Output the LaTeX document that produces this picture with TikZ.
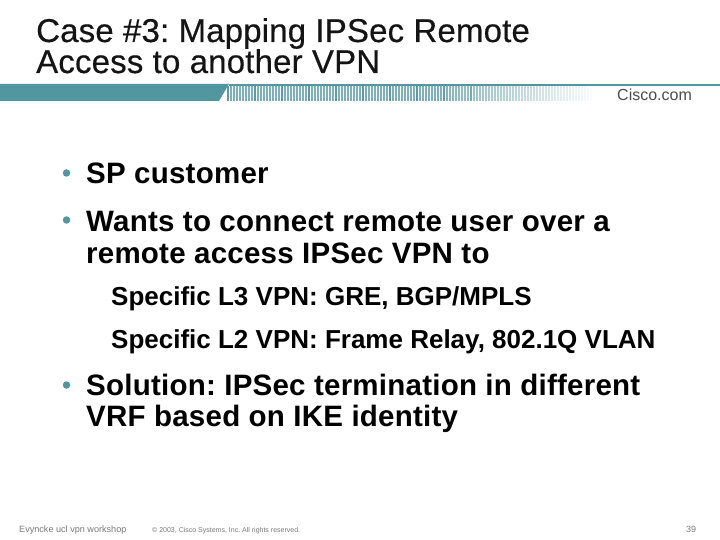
\documentclass[tikz,border=0pt]{standalone}
\usepackage{fontspec}
\setmainfont{Liberation Sans}
\newfontfamily\titlefont[LetterSpace=0.5,FakeBold=0.4]{Liberation Sans}
\newfontfamily\itemfont[LetterSpace=0.8]{Liberation Sans}
\frenchspacing
\usetikzlibrary{positioning}
\definecolor{ciscoteal}{RGB}{82,150,160}
\definecolor{titlegray}{RGB}{20,20,20}
\definecolor{footgray}{RGB}{120,120,120}
\tikzstyle{titleline} = [anchor=base west, inner sep=0pt, text=titlegray, font=\titlefont\fontsize{33}{33}\selectfont]
\tikzstyle{bigitem} = [anchor=base west, inner sep=0pt, text=black, font=\itemfont\bfseries\fontsize{29.5}{29.5}\selectfont]
\tikzstyle{subitem} = [anchor=base west, inner sep=0pt, text=black, font=\bfseries\fontsize{26}{26}\selectfont]
\tikzstyle{foot} = [anchor=base west, inner sep=0pt, text=footgray]
\tikzstyle{dotitem} = [circle, inner sep=0pt, minimum size=7.5pt, fill=ciscoteal]
\begin{document}
\begin{tikzpicture}[x=1pt,y=-1pt]
    \useasboundingbox (0,0) rectangle (720,540);
    % top band
    \fill [ciscoteal] (0,84) -- (229,84) -- (219,101) -- (0,101) -- cycle;
    \fill [ciscoteal] (229,84) rectangle (720,86.5);
    \foreach \i in {0,...,121} {
        \pgfmathsetmacro{\stripex}{227+3*\i}
        \pgfmathsetmacro{\fadeval}{(\i<70 ? 75 : 75-(\i-70)*1.4)+(\i<85 && mod(\i,9)==0 ? 20 : 0)}
        \fill [ciscoteal!\fadeval!white] (\stripex,86) rectangle (\stripex+1.6,101);
    }
    \node [anchor=base west, inner sep=0pt, text=black!70, font=\fontsize{16}{16}\selectfont] (logo) at (617,101) {Cisco.com};
    % title
    \node [titleline] (title1) at (36,42) {Case \#3: Mapping IPSec Remote};
    \node [titleline] (title2) at (36,73) {Access to another VPN};
    % bullets
    \node [dotitem] (dot1) at (66.5,173) {};
    \node [bigitem] (item1) at (86,184) {SP customer};
    \node [dotitem] (dot2) at (66.5,220) {};
    \node [bigitem] (item2) at (86,231) {Wants to connect remote user over a};
    \node [bigitem] (item2b) at (86,263) {remote access IPSec VPN to};
    \node [subitem] (sub1) at (111,305) {Specific L3 VPN: GRE, BGP/MPLS};
    \node [subitem] (sub2) at (111,348) {Specific L2 VPN: Frame Relay, 802.1Q VLAN};
    \node [dotitem] (dot3) at (66.5,385) {};
    \node [bigitem] (item3) at (86,395) {Solution: IPSec termination in different};
    \node [bigitem] (item3b) at (86,426) {VRF based on IKE identity};
    % footer
    \node [foot, font=\fontsize{9.1}{9.1}\selectfont] (footl) at (19,532) {Evyncke ucl vpn workshop};
    \node [foot, font=\fontsize{7}{7}\selectfont] (footm) at (152,532) {© 2003, Cisco Systems, Inc. All rights reserved.};
    \node [foot, font=\fontsize{9}{9}\selectfont] (footr) at (686,532) {39};
\end{tikzpicture}
\end{document}
